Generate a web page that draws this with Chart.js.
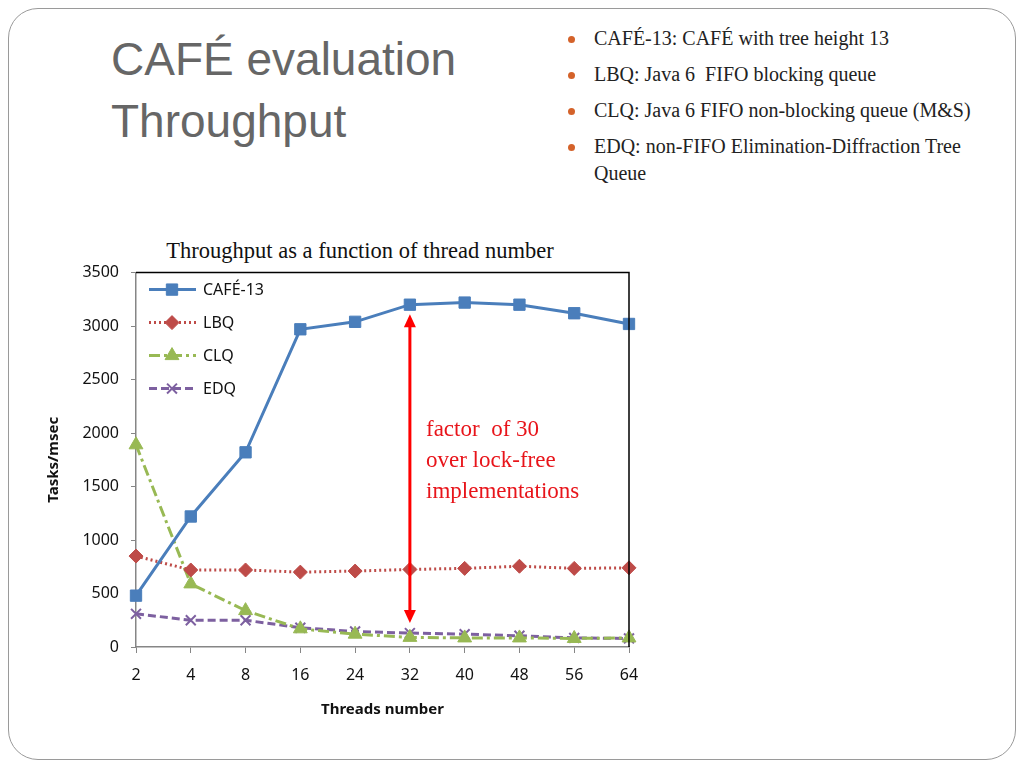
<!DOCTYPE html>
<html>
<head>
<meta charset="utf-8">
<script src="https://cdn.jsdelivr.net/npm/chart.js@4.4.0/dist/chart.umd.min.js"></script>
<style>
    body { margin: 0; background: #fff; width: 1024px; height: 768px; position: relative; overflow: hidden; }
    .slide { position: absolute; left: 8px; top: 8px; width: 1006px; height: 750px; border: 1px solid #9a9a9a; border-radius: 30px; }
    .heading { position: absolute; left: 111px; top: 28px; font-family: 'Liberation Sans', Arial, sans-serif; font-size: 46px; line-height: 62px; color: #666; }
    .bullets { position: absolute; left: 568px; top: 25px; font-family: 'Liberation Serif', serif; font-size: 20px; color: #222; }
    .bullets div { position: relative; padding-left: 26px; line-height: 27px; margin-bottom: 9px; white-space: nowrap; }
    .bullets div::before { content: ''; position: absolute; left: 0; top: 11px; width: 7px; height: 7px; border-radius: 50%; background: #d4622a; }
    .ctitle { position: absolute; left: 60px; width: 600px; top: 238px; text-align: center; font-family: 'Liberation Serif', serif; font-size: 22.5px; color: #111; }
    .note { position: absolute; left: 426px; top: 413px; font-family: 'Liberation Serif', serif; font-size: 23px; line-height: 31px; color: #e8141a; }
    #wrap { position: absolute; left: 20px; top: 251px; width: 680px; height: 480px; }
</style>
</head>
<body>
<div class="slide"></div>
<div class="heading">CAFÉ evaluation<br>Throughput</div>
<div class="bullets">
    <div>CAFÉ-13: CAFÉ with tree height 13</div>
    <div>LBQ: Java 6&nbsp; FIFO blocking queue</div>
    <div>CLQ: Java 6 FIFO non-blocking queue (M&amp;S)</div>
    <div>EDQ: non-FIFO Elimination-Diffraction Tree<br>Queue</div>
</div>
<div class="ctitle">Throughput as a function of thread number</div>
<div id="wrap"><canvas id="throughputChart" width="680" height="480"></canvas></div>
<div class="note">factor&nbsp; of 30<br>over lock-free<br>implementations</div>

<script>
// data
const threads = ['2', '4', '8', '16', '24', '32', '40', '48', '56', '64'];
const cafe13 = [480, 1220, 1820, 2970, 3040, 3200, 3220, 3200, 3120, 3020];
const lbq = [850, 720, 720, 700, 710, 725, 735, 755, 735, 740];
const clq = [1890, 590, 340, 170, 120, 90, 85, 85, 80, 85];
const edq = [310, 250, 250, 180, 145, 130, 120, 105, 85, 80];

// arrow annotation (at 32 threads)
const arrowAt = '32';
const arrowFrom = 3110;
const arrowTo = 225;

const axisGray = '#868686';

// legend drawn inside the plot, line + marker like the original
const insideLegend = {
    id: 'insideLegend',
    afterDraw(chart) {
        const ctx = chart.ctx;
        const area = chart.chartArea;
        chart.data.datasets.forEach(function(ds, i) {
            let x0 = area.left + 13;
            let y = area.top + 17 + i * 33;
            ctx.save();
            ctx.strokeStyle = ds.borderColor;
            ctx.lineWidth = ds.borderWidth;
            ctx.setLineDash(ds.borderDash || []);
            ctx.beginPath();
            ctx.moveTo(x0, y);
            ctx.lineTo(x0 + 47, y);
            ctx.stroke();
            ctx.setLineDash([]);
            ctx.fillStyle = ds.pointBackgroundColor;
            ctx.strokeStyle = ds.pointBorderColor;
            ctx.lineWidth = ds.pointBorderWidth;
            Chart.helpers.drawPoint(ctx, {
                pointStyle: ds.pointStyle,
                radius: ds.pointRadius,
                borderWidth: ds.pointBorderWidth,
                rotation: 0
            }, x0 + 23, y);
            ctx.fillStyle = '#111';
            ctx.font = '16px "Noto Sans"';
            ctx.textBaseline = 'middle';
            ctx.fillText(ds.label, x0 + 54, y + 1);
            ctx.restore();
        });
    }
};

// black frame on top/right + red double arrow
const frameAndArrow = {
    id: 'frameAndArrow',
    afterDatasetsDraw(chart) {
        const ctx = chart.ctx;
        const area = chart.chartArea;
        ctx.save();
        ctx.strokeStyle = '#000';
        ctx.lineWidth = 1.5;
        ctx.beginPath();
        ctx.moveTo(area.left, area.top);
        ctx.lineTo(area.right, area.top);
        ctx.lineTo(area.right, area.bottom);
        ctx.stroke();

        let x = chart.scales.x.getPixelForValue(threads.indexOf(arrowAt));
        let yTop = chart.scales.y.getPixelForValue(arrowFrom);
        let yBot = chart.scales.y.getPixelForValue(arrowTo);
        ctx.strokeStyle = '#ff0000';
        ctx.fillStyle = '#ff0000';
        ctx.lineWidth = 3;
        ctx.beginPath();
        ctx.moveTo(x, yTop + 10);
        ctx.lineTo(x, yBot - 10);
        ctx.stroke();
        ctx.beginPath();
        ctx.moveTo(x, yTop);
        ctx.lineTo(x - 6, yTop + 13);
        ctx.lineTo(x + 6, yTop + 13);
        ctx.closePath();
        ctx.fill();
        ctx.beginPath();
        ctx.moveTo(x, yBot);
        ctx.lineTo(x - 6, yBot - 13);
        ctx.lineTo(x + 6, yBot - 13);
        ctx.closePath();
        ctx.fill();
        ctx.restore();
    }
};

const ctx = document.getElementById('throughputChart').getContext('2d');
new Chart(ctx, {
    type: 'line',
    data: {
        labels: threads,
        datasets: [{
            label: 'CAFÉ-13',
            data: cafe13,
            borderColor: '#4a7ebb',
            borderWidth: 3,
            pointStyle: 'rect',
            pointRadius: 8,
            pointBackgroundColor: '#4a7ebb',
            pointBorderColor: '#4a7ebb',
            pointBorderWidth: 1
        }, {
            label: 'LBQ',
            data: lbq,
            borderColor: '#be4b48',
            borderWidth: 3,
            borderDash: [2, 3],
            pointStyle: 'rectRot',
            pointRadius: 7,
            pointBackgroundColor: '#be4b48',
            pointBorderColor: '#be4b48',
            pointBorderWidth: 1
        }, {
            label: 'CLQ',
            data: clq,
            borderColor: '#98b954',
            borderWidth: 3,
            borderDash: [11, 4, 3, 4],
            pointStyle: 'triangle',
            pointRadius: 8,
            pointBackgroundColor: '#98b954',
            pointBorderColor: '#98b954',
            pointBorderWidth: 1
        }, {
            label: 'EDQ',
            data: edq,
            borderColor: '#7d60a0',
            borderWidth: 3,
            borderDash: [8, 4],
            pointStyle: 'crossRot',
            pointRadius: 7,
            pointBackgroundColor: '#7d60a0',
            pointBorderColor: '#7d60a0',
            pointBorderWidth: 2
        }]
    },
    options: {
        responsive: false,
        animation: false,
        layout: { padding: { top: 0, right: 71, left: 0, bottom: 0 } },
        plugins: {
            legend: { display: false },
            tooltip: { enabled: false }
        },
        scales: {
            x: {
                offset: false,
                grid: { drawOnChartArea: false, offset: false, tickLength: 6, color: axisGray },
                border: { color: axisGray, width: 1.5 },
                ticks: { padding: 13, color: '#111', font: { family: 'Noto Sans', size: 16 }, maxRotation: 0 },
                title: {
                    display: true,
                    text: 'Threads number',
                    color: '#111',
                    font: { family: 'Noto Sans', size: 15, weight: 'bold' },
                    padding: { top: 0, bottom: 12 }
                },
                afterFit: function(scale) { scale.height = 84; }
            },
            y: {
                min: 0,
                max: 3500,
                grid: { drawOnChartArea: false, tickLength: 5, color: axisGray },
                border: { color: axisGray, width: 1.5 },
                ticks: {
                    stepSize: 500,
                    padding: 12,
                    color: '#111',
                    font: { family: 'Noto Sans', size: 16 },
                    callback: function(value) { return String(value); }
                },
                title: {
                    display: true,
                    text: 'Tasks/msec',
                    color: '#111',
                    font: { family: 'Noto Sans', size: 15, weight: 'bold' },
                    padding: { top: 25, bottom: 0 }
                },
                afterFit: function(scale) { scale.width = 116; }
            }
        }
    },
    plugins: [frameAndArrow, insideLegend]
});
</script>
</body>
</html>
